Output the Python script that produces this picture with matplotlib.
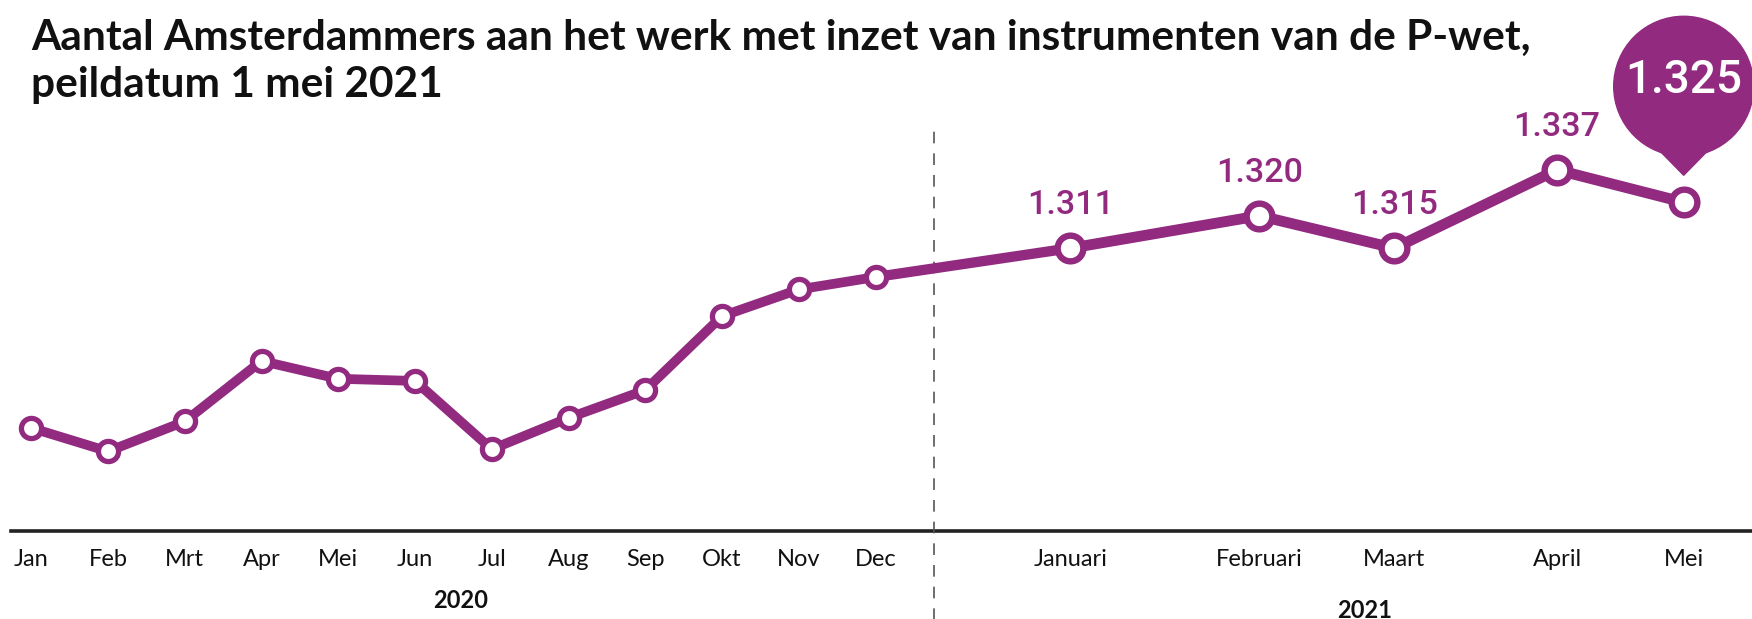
import matplotlib.pyplot as plt
import matplotlib.transforms as mtransforms
from matplotlib.patches import Circle, Polygon

# data
maanden_2020 = ['Jan', 'Feb', 'Mrt', 'Apr', 'Mei', 'Jun', 'Jul', 'Aug', 'Sep', 'Okt', 'Nov', 'Dec']
maanden_2021 = ['Januari', 'Februari', 'Maart', 'April', 'Mei']
x_2020 = [0, 1, 2, 3, 4, 5, 6, 7, 8, 9, 10, 11]
x_2021 = [13.54, 16.0, 17.76, 19.88, 21.53]
werk_2020 = [1241.4, 1232.7, 1243.8, 1266.2, 1259.6, 1258.8, 1233.5, 1245.1, 1255.4, 1282.8, 1292.7, 1297.3]
werk_2021 = [1308, 1320, 1308, 1337, 1325]
labels_2021 = ['1.311', '1.320', '1.315', '1.337']
laatste = '1.325'
jaar_grens = 11.76

paars = '#922a80'
W, H = 1752, 619

fig = plt.figure(figsize=(W / 100, H / 100), dpi=100)
ax = fig.add_axes([11 / W, 1 - 531 / H, 1 - 11 / W, (531 - 100) / H])
ax.set_xlim(-0.264, 22.42)
ax.set_ylim(1203.2, 1362.9)
ax.axis('off')

# baseline
ax.axhline(1203.2, color='#222222', lw=2.6, clip_on=False, zorder=1)
# year separator
ax.plot([jaar_grens, jaar_grens], [-0.3, 0.93], transform=mtransforms.blended_transform_factory(ax.transData, ax.transAxes),
        color='#555555', lw=1.2, dashes=(7, 6), clip_on=False, zorder=1)

# line 2020 -> 2021
ax.plot([x_2020[-1], x_2021[0]], [werk_2020[-1], werk_2021[0]], color=paars, lw=7.4, zorder=2)
ax.plot(x_2020, werk_2020, color=paars, lw=7, zorder=2)
ax.plot(x_2021, werk_2021, color=paars, lw=7.8, zorder=2)
ax.plot(x_2020, werk_2020, 'o', ms=14.5, mfc='white', mec=paars, mew=3.8, zorder=3)
ax.plot(x_2021, werk_2021, 'o', ms=18.5, mfc='white', mec=paars, mew=4.6, zorder=3)

for x, y, s in zip(x_2021, werk_2021, labels_2021):
    ax.annotate(s, (x, y), xytext=(0, 31), textcoords='offset points', ha='center', va='center',
                color=paars, fontsize=24.5, family='Roboto', fontweight='medium')

# bubble for the latest value
trans = fig.dpi_scale_trans + mtransforms.ScaledTranslation(x_2021[-1], werk_2021[-1], ax.transData)
ax.add_patch(Circle((0, 1.16), 0.70, transform=trans, color=paars, clip_on=False, zorder=4))
ax.add_patch(Polygon([(-0.52, 0.80), (0.52, 0.80), (0, 0.27)], closed=True, transform=trans,
                     color=paars, clip_on=False, zorder=4))
ax.text(0, 1.22, laatste, transform=trans, ha='center', va='center', color='white',
        fontsize=33, family='Roboto', fontweight='medium', zorder=5)

# month labels
lbl = mtransforms.blended_transform_factory(ax.transData, fig.transFigure)
for x, m in zip(x_2020 + x_2021, maanden_2020 + maanden_2021):
    ax.text(x, 1 - 559 / H, m, transform=lbl, ha='center', va='center', fontsize=17, family='Lato', color='#111111')
fig.text(461 / W, 1 - 600 / H, '2020', ha='center', va='center', fontsize=17, family='Lato', fontweight='bold', color='#111111')
fig.text(1365 / W, 1 - 610 / H, '2021', ha='center', va='center', fontsize=17, family='Lato', fontweight='bold', color='#111111')

# title
fig.text(31 / W, 1 - 50 / H, 'Aantal Amsterdammers aan het werk met inzet van instrumenten van de P-wet,',
         ha='left', va='baseline', fontsize=30.5, family='Lato', fontweight='bold', color='#111111')
fig.text(31 / W, 1 - 97 / H, 'peildatum 1 mei 2021',
         ha='left', va='baseline', fontsize=30.5, family='Lato', fontweight='bold', color='#111111')

fig.savefig('out.png', dpi=100, facecolor='white')
